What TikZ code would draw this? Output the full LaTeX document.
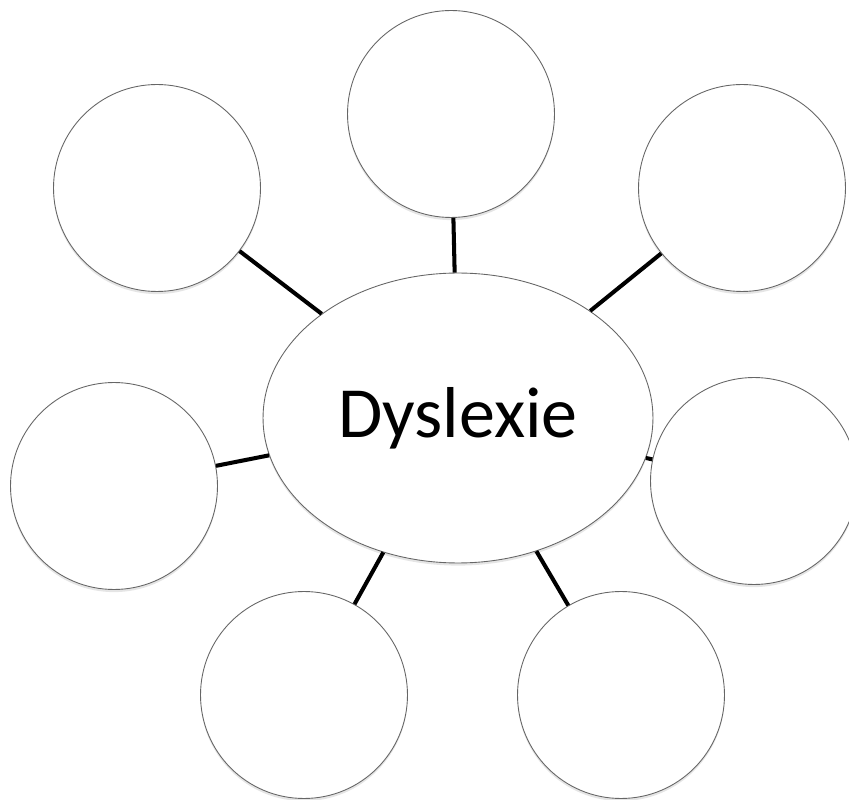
\documentclass[tikz,border=0pt]{standalone}
\usepackage{fontspec}
\setmainfont{Carlito}
\usetikzlibrary{shapes,shadows}
\usetikzlibrary{scopes}
\tikzset{
        bubble/.style={circle, draw=black!60, line width=0.5pt, fill=white,
                minimum size=4.14cm, inner sep=0pt,
                drop shadow={shadow xshift=0pt, shadow yshift=-1.5pt, opacity=0.2}},
        hub/.style={ellipse, draw=black!60, line width=0.5pt, fill=white,
                minimum width=7.8cm, minimum height=5.8cm, inner sep=0pt,
                font=\fontsize{41}{48}\selectfont,
                drop shadow={shadow xshift=0pt, shadow yshift=-1.5pt, opacity=0.2}}
}
\begin{document}
\begin{tikzpicture}[x=0.02cm,y=-0.02cm]
        \clip (0,0) rectangle (849,800);
        \fill[white] (0,0) rectangle (849,800);
        \node[hub] (dyslexie) at (458,418) {Dyslexie};
        \node[bubble] (top) at (451,114) {};
        \node[bubble] (topleft) at (157,188) {};
        \node[bubble] (topright) at (742,188) {};
        \node[bubble] (left) at (114,486) {};
        \node[bubble] (right) at (754,481) {};
        \node[bubble] (botleft) at (304,695) {};
        \node[bubble] (botright) at (621,695) {};
        { [line width=2.3pt]
            \draw (dyslexie) -- (top);
            \draw (dyslexie) -- (topleft);
            \draw (dyslexie) -- (topright);
            \draw (dyslexie) -- (left);
            \draw (dyslexie) -- (right);
            \draw (dyslexie) -- (botleft);
            \draw (dyslexie) -- (botright);
        }
    \end{tikzpicture}
\end{document}
